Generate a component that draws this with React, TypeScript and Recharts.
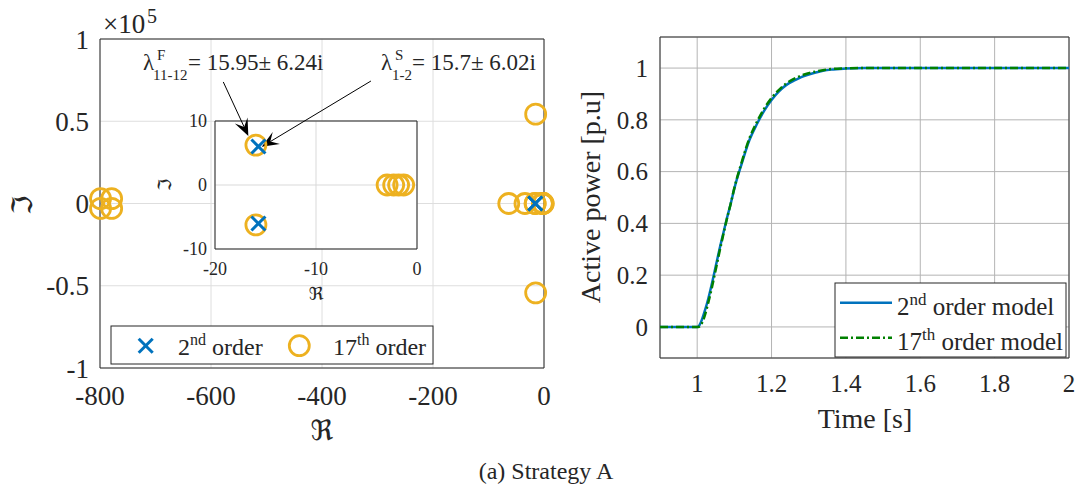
import React from 'react';
import {
  ScatterChart,
  Scatter,
  XAxis,
  YAxis,
  CartesianGrid,
  ReferenceArea,
  ReferenceLine,
  LineChart,
  Line,
} from 'recharts';

// ---------- data ----------
// pole map: 2nd order model
const poles2Re = [-15.7, -15.7];
const poles2Im = [6.02, -6.02];
// pole map: 17th order model
const poles17Re = [-799, -799, -779, -779, -63.5, -34.3, -15.95, -15.95, -2.96, -2.31, -1.82, -1.32, -15, -15];
const poles17Im = [3000, -3000, 3000, -3000, 0, 0, 6.24, -6.24, 0, 0, 0, 0, 54300, -54300];

const mainXTicks = [-800, -600, -400, -200, 0];
const mainYTicks = [-100000, -50000, 0, 50000, 100000];
const insetXTicks = [-20, -10, 0];
const insetYTicks = [-10, 0, 10];

// annotation arrows (inset coordinates)
const arrowF = [{ x: -19.18, y: 16.1 }, { x: -16.7, y: 7.66 }];
const arrowS = [{ x: -4.56, y: 16.25 }, { x: -15.37, y: 5.98 }];

// step response
const time = [0.9, 1.0, 1.005, 1.01, 1.02, 1.03, 1.04, 1.05, 1.06, 1.07, 1.08, 1.09, 1.1, 1.12, 1.14, 1.16, 1.18, 1.2, 1.22, 1.24, 1.26, 1.28, 1.3, 1.33, 1.36, 1.4, 1.45, 1.5, 1.6, 1.8, 2.0];
const power2nd = [0, 0, 0.004, 0.018, 0.06, 0.11, 0.17, 0.235, 0.3, 0.36, 0.42, 0.475, 0.535, 0.632, 0.72, 0.782, 0.835, 0.877, 0.91, 0.935, 0.951, 0.965, 0.975, 0.987, 0.994, 0.998, 1, 1, 1, 1, 1];
const power17th = [0, 0, 0.001, 0.008, 0.042, 0.095, 0.155, 0.222, 0.29, 0.355, 0.418, 0.475, 0.537, 0.638, 0.727, 0.79, 0.843, 0.884, 0.916, 0.941, 0.958, 0.971, 0.98, 0.99, 0.996, 0.999, 1, 1, 1, 1, 1];
const timeTicks = [1, 1.2, 1.4, 1.6, 1.8, 2];
const powerTicks = [0, 0.2, 0.4, 0.6, 0.8, 1];

// ---------- styles ----------
const FONT = '"Liberation Serif", "Times New Roman", serif';
const FRAK = '"DejaVu Serif", "DejaVu Sans", serif';
const TXT = '#262626';
const BLUE = '#0072BD';
const ORANGE = '#EDB120';
const GREEN = '#008000';

const pts2 = poles2Re.map((x, i) => ({ x, y: poles2Im[i] }));
const pts17 = poles17Re.map((x, i) => ({ x, y: poles17Im[i] }));
const powerData = time.map((t, i) => ({ t, p2: power2nd[i], p17: power17th[i] }));

const CircleMark = (p: any) => (
  <circle cx={p.cx} cy={p.cy} r={10} fill="none" stroke={ORANGE} strokeWidth={2.8} />
);
const CrossMark = (p: any) => {
  const s = 7;
  return (
    <g stroke={BLUE} strokeWidth={3}>
      <line x1={p.cx - s} y1={p.cy - s} x2={p.cx + s} y2={p.cy + s} />
      <line x1={p.cx - s} y1={p.cy + s} x2={p.cx + s} y2={p.cy - s} />
    </g>
  );
};

const Arrow = (p: any) => {
  const { x1, y1, x2, y2 } = p;
  const dx = x2 - x1;
  const dy = y2 - y1;
  const L = Math.hypot(dx, dy) || 1;
  const ux = dx / L;
  const uy = dy / L;
  const nx = -uy;
  const ny = ux;
  const len = 17;
  const w = 7;
  const notch = 10;
  const bx = x2 - ux * len;
  const by = y2 - uy * len;
  const mx = x2 - ux * notch;
  const my = y2 - uy * notch;
  const pts = [
    [x2, y2],
    [bx + nx * w, by + ny * w],
    [mx, my],
    [bx - nx * w, by - ny * w],
  ]
    .map((q) => q.join(','))
    .join(' ');
  return (
    <g>
      <line x1={x1} y1={y1} x2={mx} y2={my} stroke="#000" strokeWidth={1} />
      <polygon points={pts} fill="#000" />
    </g>
  );
};

const fmtE5 = (v: number) => String(Math.round((v / 1e5) * 100) / 100);

export default function App() {
  const tickMain = { fontSize: 27, fill: TXT, fontFamily: FONT };
  const tickInset = { fontSize: 18, fill: TXT, fontFamily: FONT };
  const tickRight = { fontSize: 25, fill: TXT, fontFamily: FONT };
  return (
    <div style={{ position: 'absolute', left: 0, top: 0, width: 1080, height: 492, background: '#fff', fontFamily: FONT }}>
      {/* main pole map */}
      <div style={{ position: 'absolute', left: 0, top: 0 }}>
        <ScatterChart width={560} height={450} margin={{ top: 39, right: 16, left: 30, bottom: 22 }}>
          <CartesianGrid stroke="#dedede" strokeWidth={1} />
          <XAxis
            type="number"
            dataKey="x"
            domain={[-800, 0]}
            ticks={mainXTicks}
            height={60}
            tickLine={false}
            axisLine={false}
            tickSize={6}
            tickMargin={12}
            tick={tickMain}
          />
          <YAxis
            type="number"
            dataKey="y"
            domain={[-100000, 100000]}
            ticks={mainYTicks}
            width={70}
            tickLine={false}
            axisLine={false}
            tickSize={6}
            tickMargin={5}
            tick={tickMain}
            tickFormatter={fmtE5}
          />
          <ReferenceArea x1={-800} x2={0} y1={-100000} y2={100000} fill="none" stroke="#262626" strokeWidth={1} fillOpacity={0} />
          <Scatter data={pts17} shape={CircleMark} isAnimationActive={false} />
          <Scatter data={pts2} shape={CrossMark} isAnimationActive={false} />
        </ScatterChart>
      </div>

      {/* inset */}
      <div style={{ position: 'absolute', left: 130, top: 40 }}>
        <ScatterChart width={300} height={270} margin={{ top: 81, right: 13, left: 45, bottom: 31 }}>
          <CartesianGrid stroke="#d9d9d9" fill="#fff" fillOpacity={1} />
          <XAxis
            type="number"
            dataKey="x"
            domain={[-20, 0]}
            ticks={insetXTicks}
            allowDataOverflow
            height={30}
            tickLine={false}
            axisLine={false}
            tickSize={6}
            tickMargin={7}
            tick={tickInset}
          />
          <YAxis
            type="number"
            dataKey="y"
            domain={[-10, 10]}
            ticks={insetYTicks}
            allowDataOverflow
            width={40}
            tickLine={false}
            axisLine={false}
            tickSize={4}
            tickMargin={4}
            tick={tickInset}
          />
          <ReferenceArea x1={-20} x2={0} y1={-10} y2={10} fill="none" fillOpacity={0} stroke="#262626" strokeWidth={1} />
          <Scatter data={pts17} shape={CircleMark} isAnimationActive={false} />
          <Scatter data={pts2} shape={CrossMark} isAnimationActive={false} />
          <ReferenceLine segment={arrowF} ifOverflow="visible" shape={Arrow} />
          <ReferenceLine segment={arrowS} ifOverflow="visible" shape={Arrow} />
        </ScatterChart>
      </div>

      {/* step response */}
      <div style={{ position: 'absolute', left: 560, top: 0 }}>
        <LineChart width={520} height={450} data={powerData} margin={{ top: 37, right: 11, left: 30, bottom: 32 }}>
          <CartesianGrid stroke="#b4b4b4" strokeWidth={1} />
          <XAxis
            type="number"
            dataKey="t"
            domain={[0.9, 2]}
            ticks={timeTicks}
            allowDataOverflow
            height={60}
            tickLine={false}
            axisLine={false}
            tickSize={6}
            tickMargin={10}
            tick={tickRight}
          />
          <YAxis
            type="number"
            domain={[-0.12, 1.12]}
            ticks={powerTicks}
            allowDataOverflow
            width={70}
            tickLine={false}
            axisLine={false}
            tickSize={6}
            tickMargin={6}
            tick={tickRight}
          />
          <ReferenceArea x1={0.9} x2={2} y1={-0.12} y2={1.12} fill="none" fillOpacity={0} stroke="#333" strokeWidth={1} />
          <Line type="monotone" dataKey="p2" stroke={BLUE} strokeWidth={2.5} dot={false} isAnimationActive={false} />
          <Line type="monotone" dataKey="p17" stroke={GREEN} strokeWidth={2.5} strokeDasharray="8 3 2 3" dot={false} isAnimationActive={false} />
        </LineChart>
      </div>

      {/* texts, legends */}
      <svg width={1080} height={492} style={{ position: 'absolute', left: 0, top: 0, pointerEvents: 'none' }}>
        <g fontFamily={FONT} fill={TXT}>
          {/* exponent */}
          <text x={103} y={33} fontSize={27}>×10</text>
          <text x={147} y={23} fontSize={20}>5</text>

          {/* axis labels left */}
          <text x={322} y={440} fontSize={28} fontFamily={FRAK} textAnchor="middle">ℜ</text>
          <text transform="translate(32,205) rotate(-90)" fontSize={28} fontFamily={FRAK} textAnchor="middle">ℑ</text>
          <text x={316} y={300} fontSize={18} fontFamily={FRAK} textAnchor="middle">ℜ</text>
          <text transform="translate(171,185) rotate(-90)" fontSize={18} fontFamily={FRAK} textAnchor="middle">ℑ</text>

          {/* annotations */}
          <text x={143} y={70} fontSize={23}>λ</text>
          <text x={157} y={60} fontSize={15}>F</text>
          <text x={153} y={80} fontSize={15}>11-12</text>
          <text x={188} y={70} fontSize={23}>= 15.95± 6.24i</text>

          <text x={381} y={70} fontSize={23}>λ</text>
          <text x={395} y={60} fontSize={15}>S</text>
          <text x={392} y={80} fontSize={15}>1-2</text>
          <text x={412} y={70} fontSize={23}>= 15.7± 6.02i</text>

          {/* left legend */}
          <rect x={111} y={326} width={322} height={38} fill="#fff" stroke="#262626" strokeWidth={1} />
          <g stroke={BLUE} strokeWidth={3}>
            <line x1={138.7} y1={338.7} x2={152.7} y2={352.7} />
            <line x1={138.7} y1={352.7} x2={152.7} y2={338.7} />
          </g>
          <text x={178} y={355} fontSize={24}>
            2<tspan dy={-10} fontSize={16}>nd</tspan>
            <tspan dy={10}> order</tspan>
          </text>
          <circle cx={299.3} cy={345.7} r={10} fill="none" stroke={ORANGE} strokeWidth={2.8} />
          <text x={333} y={355} fontSize={24}>
            17<tspan dy={-10} fontSize={16}>th</tspan>
            <tspan dy={10}> order</tspan>
          </text>

          {/* right axis labels */}
          <text transform="translate(600,197) rotate(-90)" fontSize={28} textAnchor="middle">Active power [p.u]</text>
          <text x={865} y={428} fontSize={28} textAnchor="middle">Time [s]</text>

          {/* right legend */}
          <rect x={835} y={283} width={231} height={74} fill="#fff" stroke="#262626" strokeWidth={1} />
          <line x1={840} y1={302.7} x2={892} y2={302.7} stroke={BLUE} strokeWidth={2.5} />
          <line x1={840} y1={337.7} x2={892} y2={337.7} stroke={GREEN} strokeWidth={2.5} strokeDasharray="8 3 2 3" />
          <text x={897} y={315} fontSize={25}>
            2<tspan dy={-10} fontSize={17}>nd</tspan>
            <tspan dy={10}> order model</tspan>
          </text>
          <text x={897} y={350} fontSize={25}>
            17<tspan dy={-10} fontSize={17}>th</tspan>
            <tspan dy={10}> order model</tspan>
          </text>

          {/* caption */}
          <text x={546} y={479} fontSize={24} textAnchor="middle">(a) Strategy A</text>
        </g>
      </svg>
    </div>
  );
}
